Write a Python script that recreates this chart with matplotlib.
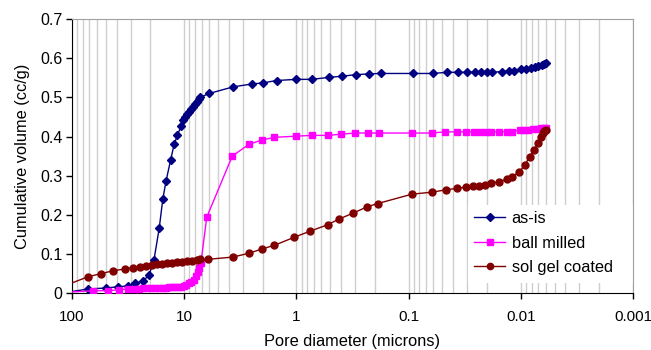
import matplotlib
matplotlib.use("Agg")
import matplotlib.pyplot as plt
from matplotlib.patches import Rectangle
from matplotlib.ticker import LogLocator, FixedLocator, NullFormatter

plt.rcParams['font.family'] = ['Liberation Sans', 'DejaVu Sans']

# ---- data (pore diameter in microns, cumulative volume in cc/g) ----
asis_x = [120, 71.6, 49.8, 38.7, 31.9, 27.4, 23.4, 20.6, 18.6, 16.7, 15.5, 14.5, 13.2, 12.3,
          11.5, 10.7, 10.2, 9.78, 9.38, 9.06, 8.75, 8.40, 8.06, 7.74, 7.43, 7.23, 5.97,
          3.65, 2.50, 1.99, 1.50, 1.00, 0.73, 0.512, 0.392, 0.294, 0.225, 0.178, 0.0914,
          0.0606, 0.0457, 0.0361, 0.0303, 0.0256, 0.0226, 0.0202, 0.0179, 0.0148, 0.0128,
          0.0115, 0.01006, 0.00899, 0.00811, 0.00747, 0.00696, 0.00647, 0.00615, 0.00596]
asis_y = [0.001, 0.011, 0.0135, 0.0168, 0.0186, 0.0255, 0.0314, 0.0459, 0.085, 0.166, 0.241,
          0.287, 0.341, 0.380, 0.403, 0.426, 0.442, 0.449, 0.457, 0.463, 0.470, 0.476, 0.483,
          0.489, 0.495, 0.500, 0.510, 0.527, 0.534, 0.537, 0.543, 0.546, 0.546, 0.551, 0.554,
          0.558, 0.560, 0.561, 0.561, 0.561, 0.564, 0.564, 0.564, 0.564, 0.564, 0.564, 0.564,
          0.566, 0.567, 0.568, 0.572, 0.573, 0.575, 0.578, 0.580, 0.583, 0.585, 0.587]

ball_x = [120, 65.4, 48.1, 37.9, 31.9, 27.4, 25.3, 23.3, 21.5, 19.8, 18.2, 16.8, 15.5, 14.5,
          13.7, 12.9, 12.1, 11.4, 10.7, 10.04, 9.54, 9.06, 8.61, 8.26, 7.93, 7.61, 7.38, 7.10,
          6.30, 3.73, 2.66, 2.04, 1.57, 1.01, 0.73, 0.52, 0.403, 0.300, 0.232, 0.184, 0.0927,
          0.0619, 0.0471, 0.0373, 0.0310, 0.0261, 0.0231, 0.0206, 0.0185, 0.0155, 0.0134,
          0.0121, 0.0102, 0.00937, 0.00858, 0.00783, 0.00722, 0.00665, 0.00621, 0.00596]
ball_y = [0.002, 0.0066, 0.0066, 0.009, 0.011, 0.012, 0.012, 0.013, 0.013, 0.013, 0.013, 0.014,
          0.014, 0.014, 0.015, 0.015, 0.016, 0.016, 0.017, 0.019, 0.022, 0.026, 0.030, 0.035,
          0.043, 0.055, 0.065, 0.077, 0.194, 0.350, 0.380, 0.391, 0.398, 0.401, 0.403, 0.403,
          0.406, 0.409, 0.409, 0.409, 0.409, 0.409, 0.412, 0.412, 0.412, 0.412, 0.412, 0.412,
          0.412, 0.412, 0.412, 0.412, 0.417, 0.417, 0.418, 0.419, 0.420, 0.421, 0.422, 0.422]

sol_x = [130, 71.6, 55.5, 42.8, 33.7, 28.4, 24.8, 21.9, 19.5, 17.6, 15.9, 14.3, 12.9, 11.7,
         10.5, 9.50, 8.58, 7.74, 7.23, 6.11, 3.71, 2.65, 2.04, 1.57, 1.046, 0.764, 0.526,
         0.413, 0.310, 0.233, 0.189, 0.0933, 0.0622, 0.0466, 0.0368, 0.0310, 0.0265, 0.0234,
         0.0208, 0.0185, 0.0156, 0.0133, 0.0120, 0.0103, 0.00921, 0.00831, 0.00763, 0.00698,
         0.00658, 0.00634, 0.00615, 0.00599]
sol_y = [0.014, 0.0424, 0.050, 0.0577, 0.062, 0.0653, 0.0679, 0.0704, 0.0722, 0.074, 0.0755,
         0.0773, 0.0781, 0.0791, 0.0806, 0.0824, 0.0832, 0.085, 0.0868, 0.0868, 0.0924, 0.102,
         0.113, 0.1225, 0.143, 0.158, 0.175, 0.190, 0.205, 0.221, 0.229, 0.253, 0.258, 0.264,
         0.268, 0.271, 0.274, 0.274, 0.277, 0.281, 0.285, 0.291, 0.297, 0.310, 0.327, 0.349,
         0.366, 0.384, 0.398, 0.408, 0.414, 0.418]

series_labels = ["as-is", "ball milled", "sol gel coated"]
x_ticks = [100, 10, 1, 0.1, 0.01, 0.001]
x_tick_labels = ["100", "10", "1", "0.1", "0.01", "0.001"]
y_ticks = [0, 0.1, 0.2, 0.3, 0.4, 0.5, 0.6, 0.7]
y_tick_labels = ["0", "0.1", "0.2", "0.3", "0.4", "0.5", "0.6", "0.7"]

W, H = 651, 350
fig = plt.figure(figsize=(W / 100, H / 100), dpi=100)
ax_l, ax_r, ax_t, ax_b = 72, 633, 19, 293.3
ax = fig.add_axes([ax_l / W, 1 - ax_b / H, (ax_r - ax_l) / W, (ax_b - ax_t) / H])

ax.set_xscale('log')
ax.set_xlim(100, 0.001)
ax.set_ylim(0, 0.7)

ax.plot(asis_x, asis_y, color='#000080', marker='D', markersize=4.2, linewidth=1.0,
        label=series_labels[0], zorder=3)
ax.plot(ball_x, ball_y, color='#FF00FF', marker='s', markersize=4.6, linewidth=1.0,
        label=series_labels[1], zorder=3)
ax.plot(sol_x, sol_y, color='#800000', marker='o', markersize=5.0, linewidth=1.0,
        label=series_labels[2], zorder=3)

ax.xaxis.set_major_locator(FixedLocator(x_ticks))
ax.set_xticklabels(x_tick_labels)
ax.xaxis.set_minor_locator(LogLocator(base=10, subs=range(2, 10), numticks=20))
ax.xaxis.set_minor_formatter(NullFormatter())
ax.set_yticks(y_ticks)
ax.set_yticklabels(y_tick_labels)

ax.grid(True, which='both', axis='x', color='#cfcfcf', linewidth=1.0, zorder=0)
ax.set_axisbelow(True)

ax.tick_params(axis='x', which='major', direction='out', length=4, width=1, color='black',
               labelsize=11, pad=8)
ax.tick_params(axis='x', which='minor', length=0)
ax.tick_params(axis='y', which='major', direction='out', length=4, width=1, color='black',
               labelsize=11.5, pad=3)

for side in ['top', 'right']:
    ax.spines[side].set_color('#a0a0a0')
for side in ['left', 'bottom']:
    ax.spines[side].set_color('black')

ax.set_xlabel('Pore diameter (microns)', fontsize=11.8, labelpad=7)
ax.set_ylabel('Cumulative volume (cc/g)', fontsize=11.8, labelpad=7)

# white legend area (hides gridlines), no border
def ax_x(px):
    return (px - ax_l) / (ax_r - ax_l)

def ax_y(py):
    return (ax_b - py) / (ax_b - ax_t)

ax.add_patch(Rectangle((ax_x(467.7), ax_y(283)), 1 - ax_x(467.7), ax_y(205) - ax_y(283),
                       transform=ax.transAxes, facecolor='white', edgecolor='none',
                       zorder=1.5))

leg = ax.legend(loc='upper left', bbox_to_anchor=(ax_x(474), ax_y(211)), fontsize=11.8,
                frameon=False, handlelength=1.9, labelspacing=0.58, borderpad=0,
                borderaxespad=0, handletextpad=0.4, markerscale=0.9)
leg.set_zorder(5)

fig.savefig('out.png', dpi=100)
